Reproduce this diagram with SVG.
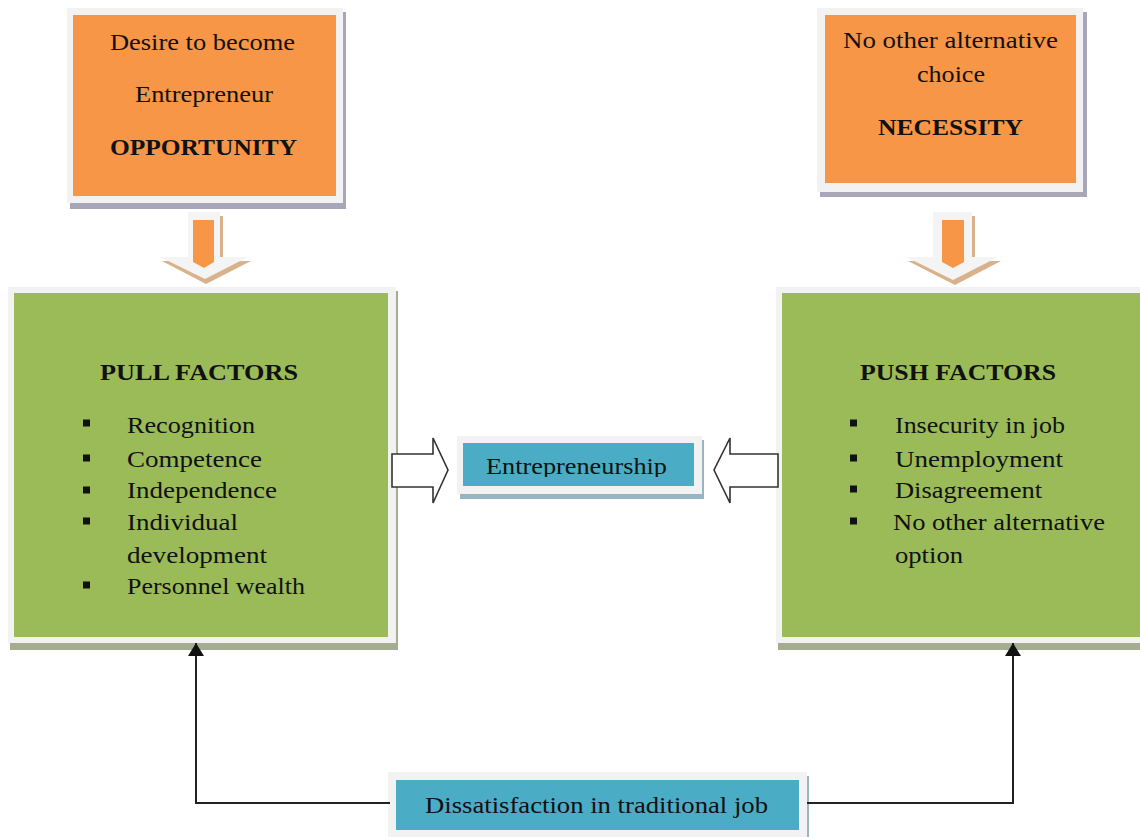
<svg xmlns="http://www.w3.org/2000/svg" width="1140" height="837" viewBox="0 0 1140 837">
<style>
text{font-family:"Liberation Serif","Times New Roman",serif;fill:#111;}
.t{font-size:23px;}
.b{font-size:24px;font-weight:bold;}
.frame{fill:#f2f2f2;}
.org{fill:#F79646;}
.grn{fill:#9BBB59;}
.blu{fill:#4BACC6;}
.shO{fill:#a9a6ba;}
.shG{fill:#a3ae90;}
.shB{fill:#97b5c2;}
.bul{fill:#111;}
.conn{fill:none;stroke:#222;stroke-width:2;}
.hollow{fill:#fff;stroke:#333;stroke-width:1.6;stroke-linejoin:miter;}
.tan{fill:#d7b28a;}
.wa{fill:#f4f4f4;}
</style>
<defs>
<marker id="ah" markerWidth="13" markerHeight="16" refX="13" refY="8" orient="auto" markerUnits="userSpaceOnUse">
<path d="M0,0 L13,8 L0,16 z" fill="#111"/>
</marker>
<clipPath id="clipE"><rect x="463" y="443" width="231" height="34"/></clipPath>
</defs>
<rect width="1140" height="837" fill="#fff"/>

<g id="opportunity">
<rect class="shO" x="70" y="12" width="276" height="197"/>
<rect class="frame" x="67" y="8" width="276" height="195"/>
<rect class="org" x="73" y="15" width="263" height="181"/>
<text class="t" x="110" y="50" textLength="185" lengthAdjust="spacingAndGlyphs">Desire to become</text>
<text class="t" x="135" y="102" textLength="138" lengthAdjust="spacingAndGlyphs">Entrepreneur</text>
<text class="b" x="110" y="155" textLength="187" lengthAdjust="spacingAndGlyphs">OPPORTUNITY</text>
</g>

<g id="necessity">
<rect class="shO" x="820" y="12" width="267" height="185"/>
<rect class="frame" x="817" y="8" width="266" height="184"/>
<rect class="org" x="825" y="15" width="251" height="168"/>
<text class="t" x="843" y="48" textLength="215" lengthAdjust="spacingAndGlyphs">No other alternative</text>
<text class="t" x="917" y="82" textLength="68" lengthAdjust="spacingAndGlyphs">choice</text>
<text class="b" x="878" y="135" textLength="145" lengthAdjust="spacingAndGlyphs">NECESSITY</text>
</g>

<g id="arrow-down-left">
<polygon class="tan" points="191,216 223,216 223,261 251,261 206,284 162,261 191,261"/>
<polygon class="wa" points="188,212 220,212 220,257 248,257 205,279 160,257 188,257"/>
<polygon class="org" points="193,220 214,220 214,262 204,268 193,262"/>
</g>

<g id="arrow-down-right">
<polygon class="tan" points="936,216 975,216 975,261 1001,261 955,285 908,261 936,261"/>
<polygon class="wa" points="933,212 972,212 972,257 998,257 953,280 906,257 933,257"/>
<polygon class="org" points="942,220 964,220 964,262 953,268 942,262"/>
</g>

<g id="pull-factors">
<rect class="shG" x="10" y="291" width="388" height="359"/>
<rect class="frame" x="8" y="287" width="388" height="356"/>
<rect class="grn" x="14" y="293" width="374" height="344"/>
<text class="b" x="100" y="380" textLength="198" lengthAdjust="spacingAndGlyphs">PULL FACTORS</text>
<rect class="bul" x="83" y="419.5" width="7" height="7"/>
<rect class="bul" x="83" y="454.5" width="7" height="7"/>
<rect class="bul" x="83" y="486.5" width="7" height="7"/>
<rect class="bul" x="83" y="517.5" width="7" height="7"/>
<rect class="bul" x="83" y="581.5" width="7" height="7"/>
<text class="t" x="127" y="433" textLength="128" lengthAdjust="spacingAndGlyphs">Recognition</text>
<text class="t" x="127" y="467" textLength="135" lengthAdjust="spacingAndGlyphs">Competence</text>
<text class="t" x="127" y="498" textLength="150" lengthAdjust="spacingAndGlyphs">Independence</text>
<text class="t" x="127" y="530" textLength="111" lengthAdjust="spacingAndGlyphs">Individual</text>
<text class="t" x="127" y="563" textLength="140" lengthAdjust="spacingAndGlyphs">development</text>
<text class="t" x="127" y="594" textLength="178" lengthAdjust="spacingAndGlyphs">Personnel wealth</text>
</g>

<g id="push-factors">
<rect class="shG" x="778" y="291" width="370" height="359"/>
<rect class="frame" x="776" y="287" width="370" height="356"/>
<rect class="grn" x="782" y="293" width="364" height="344"/>
<text class="b" x="860" y="380" textLength="196" lengthAdjust="spacingAndGlyphs">PUSH FACTORS</text>
<rect class="bul" x="850" y="419.5" width="7" height="7"/>
<rect class="bul" x="850" y="454.5" width="7" height="7"/>
<rect class="bul" x="850" y="485.5" width="7" height="7"/>
<rect class="bul" x="850" y="517.5" width="7" height="7"/>
<text class="t" x="895" y="433" textLength="170" lengthAdjust="spacingAndGlyphs">Insecurity in job</text>
<text class="t" x="895" y="467" textLength="168" lengthAdjust="spacingAndGlyphs">Unemployment</text>
<text class="t" x="895" y="498" textLength="147" lengthAdjust="spacingAndGlyphs">Disagreement</text>
<text class="t" x="893" y="530" textLength="212" lengthAdjust="spacingAndGlyphs">No other alternative</text>
<text class="t" x="895" y="563" textLength="68" lengthAdjust="spacingAndGlyphs">option</text>
</g>

<g id="entrepreneurship">
<rect class="shB" x="460" y="440" width="244" height="59"/>
<rect class="frame" x="457" y="436" width="245" height="58"/>
<rect class="blu" x="463" y="443" width="231" height="43"/>
<text class="t" x="486" y="474" font-size="24" textLength="181" lengthAdjust="spacingAndGlyphs" clip-path="url(#clipE)">Entrepreneurship</text>
</g>

<g id="dissatisfaction">
<rect class="shB" x="391" y="776" width="418" height="61"/>
<rect class="frame" x="388" y="772" width="419" height="65"/>
<rect class="blu" x="396" y="780" width="403" height="50"/>
<text class="t" x="425" y="813" font-size="24" textLength="343" lengthAdjust="spacingAndGlyphs">Dissatisfaction in traditional job</text>
</g>

<g id="connectors">
<polyline class="conn" points="390,803 196,803 196,643" marker-end="url(#ah)"/>
<polyline class="conn" points="807,803 1013,803 1013,643" marker-end="url(#ah)"/>
<polygon class="hollow" points="392,454 433,454 433,438 448,470 433,503 433,487 392,487"/>
<polygon class="hollow" points="778,454 730,454 730,438 714,470 730,503 730,487 778,487"/>
</g>
</svg>
